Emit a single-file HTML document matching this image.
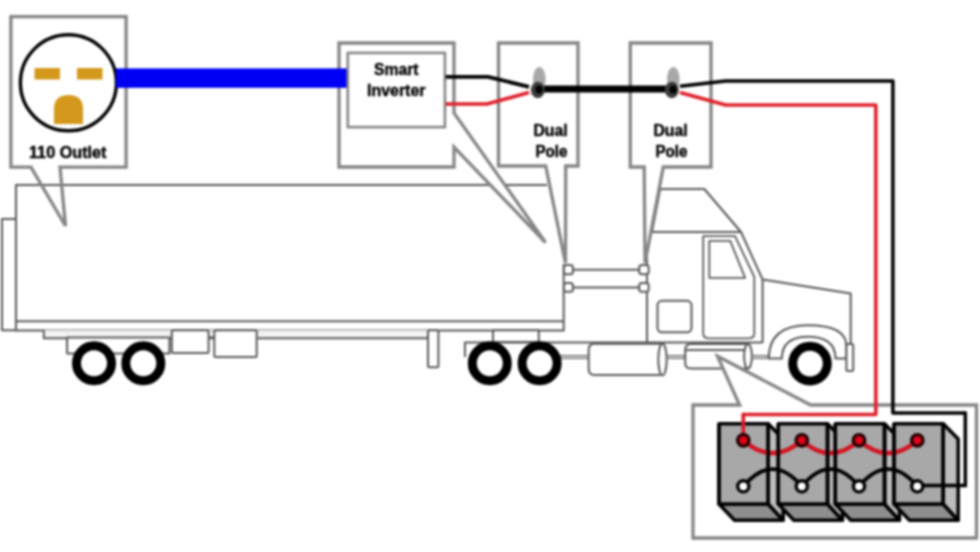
<!DOCTYPE html>
<html><head><meta charset="utf-8">
<style>
html,body{margin:0;padding:0;background:#fff;width:980px;height:552px;overflow:hidden}
svg{display:block}
#wrap{filter:blur(0.8px)}
text{font-family:"Liberation Sans",sans-serif;font-weight:bold;font-size:15.6px;fill:#000;stroke:#000;stroke-width:0.4}
</style></head>
<body><div id="wrap">
<svg width="980" height="552" viewBox="0 0 980 552">
<rect width="980" height="552" fill="#fff"/>

<!-- ===== TRUCK ===== -->
<g fill="#fff" stroke="#585858" stroke-width="2" stroke-linejoin="round">
  <!-- rear plate -->
  <rect x="2" y="219" width="14" height="111.2"/>
  <!-- trailer body -->
  <path d="M547,185 H16 V330.6 H563.7 V264"/>
  <line x1="16" y1="321.3" x2="563.7" y2="321.3"/>
  <!-- under strip -->
  <rect x="43.8" y="330.2" width="384.2" height="8" fill="#f3f3f3" stroke="none"/>
  <path d="M43.8,330.2 V338.2 H428" fill="none"/>
  <rect x="67.1" y="337.6" width="102.3" height="15.9"/>
  <rect x="171.8" y="330.2" width="36.8" height="22.8" rx="1.5"/>
  <line x1="208.6" y1="337.5" x2="214.3" y2="337.5"/>
  <rect x="214.3" y="330.2" width="42.4" height="26.8" rx="1.5"/>
  <!-- landing gear -->
  <rect x="428" y="330.2" width="10.4" height="37" rx="1.5"/>
  <!-- bogie -->
  <rect x="493" y="330.2" width="45.8" height="11.8"/>
  <!-- connector squares -->
  <rect x="563.9" y="265" width="9" height="9.3" rx="2.5"/>
  <rect x="563.9" y="282.9" width="9" height="8.9" rx="2.5"/>
  <line x1="572.9" y1="269.8" x2="639.2" y2="269.8" stroke-width="1.9"/>
  <line x1="572.9" y1="287.5" x2="639.2" y2="287.5" stroke-width="1.9"/>
  <!-- cab -->
  <path d="M652,232 L660.2,189 H704.3 L741,232"/>
  <path d="M647,342.8 V232 H741 L762.6,279.6 V342.8"/>
  <rect x="639.2" y="265" width="9.5" height="9.3" rx="2.5"/>
  <rect x="639.2" y="282.9" width="9.5" height="8.9" rx="2.5"/>
  <path d="M703.2,333 V236.2 H735 L754.3,276.8 V333 Q754.3,338.3 749,338.3 H708.5 Q703.2,338.3 703.2,333 Z" stroke-width="1.8"/>
  <path d="M709.3,240.8 H730.2 L745.1,277.8 H709.3 Z" stroke-width="1.8"/>
  <rect x="657.5" y="300.8" width="34" height="31.5" rx="4.5"/>
  <path d="M465,357 V342.6 H762.6" fill="none"/>
  <!-- hood -->
  <path d="M762.6,279.6 L850.7,293.4 V344"/>
  <!-- tanks -->
  <rect x="560" y="355.7" width="28.7" height="2.6" stroke-width="1.2"/>
  <path d="M594.5,343.8 H662 V375 H594.5 Q588.7,375 588.7,369 V350 Q588.7,343.8 594.5,343.8 Z"/>
  <ellipse cx="662.5" cy="359.5" rx="4.2" ry="15.8"/>
  <rect x="666.7" y="355.7" width="18.5" height="2.6" stroke-width="1.2"/>
  <path d="M691,343.9 H748 V368.5 H691 Q685.2,368.5 685.2,363 V350 Q685.2,343.9 691,343.9 Z"/>
  <line x1="685.5" y1="349.9" x2="748" y2="349.9"/>
  <ellipse cx="748" cy="356.2" rx="3.9" ry="12.3"/>
  <rect x="751.9" y="355.7" width="16.5" height="2.6" stroke-width="1.2"/>
  <!-- fender -->
  <path d="M768.8,358.6 Q768.8,325.2 808,325.2 Q846.4,325.2 846.4,346.2 V358.6 H835.5 Q835.5,336.8 808,336.8 Q781.9,336.8 781.9,358.6 Z"/>
  <rect x="846.4" y="344" width="6.8" height="26.9" rx="1.5"/>
</g>
<!-- wheels -->
<g fill="#fff" stroke="#000" stroke-width="9">
  <circle cx="94" cy="363.3" r="17.5"/>
  <circle cx="143.3" cy="363.3" r="17.5"/>
  <circle cx="489.8" cy="363.3" r="17.5"/>
  <circle cx="539.6" cy="363.3" r="17.5"/>
  <circle cx="810" cy="363.6" r="17.3"/>
</g>

<!-- ===== CALLOUTS ===== -->
<g fill="#fff" stroke="#858585" stroke-width="3.3" stroke-linejoin="miter">
  <rect x="10.9" y="16.7" width="115.2" height="150.5" stroke="none"/>
  <path d="M10.9,16.7 H126.1 V167.2 H60 L65.5,226 L31,167.2 H10.9 Z" fill="none"/>
  <rect x="339" y="43" width="115" height="124" stroke="none"/>
  <path d="M339,43 H454 V113 L545.5,242.5 L454,147 V167 H339 Z" fill="#fff"/>
  <rect x="498.5" y="43" width="79.5" height="123" stroke="none"/>
  <path d="M498.5,43 H578 V166 H565.7 L565.5,263 L545.7,166 H498.5 Z" fill="#fff"/>
  <rect x="630.3" y="43" width="80.7" height="124" stroke="none"/>
  <path d="M630.3,43 H711 V167 H663.3 L645,263 L644.2,167 H630.3 Z" fill="#fff"/>
  <rect x="693" y="405" width="283.5" height="133" stroke="none"/>
  <path d="M693,405 H739.6 L717.5,356.3 L810.6,405 H976.5 V538 H693 Z" fill="#fff"/>
</g>

<!-- outlet -->
<circle cx="68.4" cy="82.8" r="48" fill="#fff" stroke="#000" stroke-width="3.4"/>
<g fill="#d4991c">
  <rect x="34.5" y="68" width="25.5" height="11.5"/>
  <rect x="77" y="68" width="25.5" height="11.5"/>
  <path d="M54,124 V109 Q54,95 68.5,95 Q83,95 83,109 V124 Z"/>
</g>
<text x="29.0" y="158" textLength="77.5" lengthAdjust="spacingAndGlyphs">110 Outlet</text>

<!-- blue cable -->
<rect x="116" y="68.4" width="231.5" height="19.4" fill="#0000f4"/>

<!-- inverter inner box -->
<rect x="347.8" y="52.9" width="97.1" height="74.2" fill="#fff" stroke="#858585" stroke-width="2.6"/>
<text x="374.0" y="75.4" textLength="44.5" lengthAdjust="spacingAndGlyphs">Smart</text>
<text x="367.0" y="95.8" textLength="58.5" lengthAdjust="spacingAndGlyphs">Inverter</text>
<text x="533.5" y="136.3" textLength="34.1" lengthAdjust="spacingAndGlyphs">Dual</text>
<text x="535.5" y="157.1" textLength="32.0" lengthAdjust="spacingAndGlyphs">Pole</text>
<text x="653.5" y="136.3" textLength="34.1" lengthAdjust="spacingAndGlyphs">Dual</text>
<text x="655.5" y="157.1" textLength="32.0" lengthAdjust="spacingAndGlyphs">Pole</text>

<!-- wires to switches -->
<g fill="none" stroke-width="3.5" stroke-linejoin="round">
  <path d="M445.7,76.8 H488 L529,86.8" stroke="#000" stroke-width="3.8"/>
  <path d="M445.7,104 H487 L529,92.4" stroke="#e0202a" stroke-width="3.6"/>
  <path d="M538,89 H672" stroke="#000" stroke-width="7.2"/>
  <path d="M680,86.3 L725.7,80.9 H892.9 V413 H965.3" stroke="#000"/>
  <path d="M680,92.5 L725.7,105 H875.8 V414.5 H743.3" stroke="#e0202a" stroke-width="3.6"/>
</g>
<!-- switches -->
<g id="sw1">
  <ellipse cx="539.3" cy="79" rx="6.3" ry="12" fill="#a8a8a8"/>
  <ellipse cx="537.8" cy="90" rx="7" ry="8.3" fill="#3c3c3c"/>
  <ellipse cx="539" cy="89.5" rx="3.5" ry="4" fill="#000"/>
</g>
<g transform="translate(134,0)">
  <ellipse cx="539.3" cy="79" rx="6.3" ry="12" fill="#a8a8a8"/>
  <ellipse cx="537.8" cy="90" rx="7" ry="8.3" fill="#3c3c3c"/>
  <ellipse cx="539" cy="89.5" rx="3.5" ry="4" fill="#000"/>
</g>

<!-- ===== BATTERIES ===== -->
<g stroke="#000" stroke-width="3.5" stroke-linejoin="round">
  <path d="M719,504 L734.5,520.2 H783.2 L768.2,504 Z" fill="#8e8e8e"/>
  <path d="M768.2,423.8 L783.2,439 V520.2 L768.2,504 Z" fill="#bdbdbd"/>
  <rect x="719" y="423.8" width="49.2" height="80.2" fill="#a8a8a8"/>
  <path d="M778.3,504 L793.8,520.2 H842.5 L827.5,504 Z" fill="#8e8e8e"/>
  <path d="M827.5,423.8 L842.5,439 V520.2 L827.5,504 Z" fill="#bdbdbd"/>
  <rect x="778.3" y="423.8" width="49.2" height="80.2" fill="#a8a8a8"/>
  <path d="M835.3,504 L850.8,520.2 H899.5 L884.5,504 Z" fill="#8e8e8e"/>
  <path d="M884.5,423.8 L899.5,439 V520.2 L884.5,504 Z" fill="#bdbdbd"/>
  <rect x="835.3" y="423.8" width="49.2" height="80.2" fill="#a8a8a8"/>
  <path d="M894,504 L909.5,520.2 H958.2 L943.2,504 Z" fill="#8e8e8e"/>
  <path d="M943.2,423.8 L958.2,439 V520.2 L943.2,504 Z" fill="#bdbdbd"/>
  <rect x="894" y="423.8" width="49.2" height="80.2" fill="#a8a8a8"/>
</g>
<!-- battery wires -->
<g fill="none" stroke-width="3.5">
  <path d="M743.3,440.3 Q772.55,466 801.8,440.3 Q830.4,466 859,440.3 Q888.15,466 917.3,440.3" stroke="#d41422" stroke-width="4.4"/>
  <path d="M743.3,486.3 Q772.55,452 801.8,486.3 Q830.4,452 859,486.3 Q888.15,452 917.3,486.3" stroke="#000" stroke-width="3.8"/>
</g>
<g fill="none" stroke="#000" stroke-width="3.5">
  <path d="M719,423.8 V504 M768.2,423.8 V504"/>
  <path d="M778.3,423.8 V504 M827.5,423.8 V504"/>
  <path d="M835.3,423.8 V504 M884.5,423.8 V504"/>
  <path d="M894,423.8 V504 M943.2,423.8 V504"/>
</g>
<g fill="none" stroke-width="3.5">
  <path d="M965.3,411.5 V485.6 H917.3" stroke="#000"/>
  <path d="M743.3,412.8 V440" stroke="#dc1a26" stroke-width="3.6"/>
</g>
<g>
  <circle cx="743.3" cy="440.3" r="5.8" fill="#e0001a" stroke="#200000" stroke-width="3.2"/>
  <circle cx="801.8" cy="440.3" r="5.8" fill="#e0001a" stroke="#200000" stroke-width="3.2"/>
  <circle cx="859" cy="440.3" r="5.8" fill="#e0001a" stroke="#200000" stroke-width="3.2"/>
  <circle cx="917.3" cy="440.3" r="5.8" fill="#e0001a" stroke="#200000" stroke-width="3.2"/>
  <circle cx="743.3" cy="486.3" r="5.6" fill="#fff" stroke="#000" stroke-width="3.4"/>
  <circle cx="801.8" cy="486.3" r="5.6" fill="#fff" stroke="#000" stroke-width="3.4"/>
  <circle cx="859" cy="486.3" r="5.6" fill="#fff" stroke="#000" stroke-width="3.4"/>
  <circle cx="917.3" cy="486.3" r="5.6" fill="#fff" stroke="#000" stroke-width="3.4"/>
</g>
</svg>
</div></body></html>
